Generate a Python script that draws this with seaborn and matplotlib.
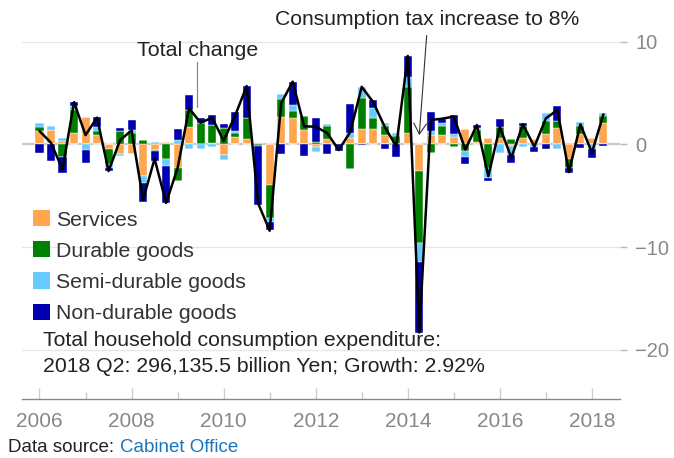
import matplotlib
matplotlib.use("Agg")
import numpy as np
import pandas as pd
import matplotlib.pyplot as plt
import seaborn as sns
from matplotlib.patches import Patch

# ---------------- data ----------------
quarters = [f"{y} Q{q}" for y in range(2006, 2019) for q in range(1, 5)][:50]

services = [1.26, 1.43, 0.30, 1.13, 2.66, 0.88, -0.50, -0.94, -0.97, -3.11,
            -0.55, 0.19, -2.33, 1.65, 0.00, 0.16, -1.04, 0.68, 0.49, 0.00,
            -3.96, 2.69, 2.53, 1.39, -0.29, 0.52, 0.16, 0.65, 1.49, 1.46,
            0.91, 0.00, 1.13, -2.56, 0.91, 0.91, 0.68, 1.49, 0.20, 0.58,
            0.58, -0.15, 0.58, 0.52, 0.97, 1.56, -1.46, 0.97, 0.60, 2.04]
durable = [0.42, 0.00, -1.20, 2.17, 0.00, 0.39, -1.40, 1.30, 1.10, 0.45,
           -0.10, -1.43, -1.20, 1.69, 2.10, 1.72, 1.56, 0.45, 2.04, -0.13,
           -3.24, 1.69, 0.75, 1.39, 0.26, 1.30, 0.00, -2.40, 3.00, 1.13,
           0.88, 0.81, 4.41, -7.00, -0.81, 0.88, -0.23, -0.65, 1.20, -2.33,
           1.08, 0.50, 1.20, 0.00, 1.30, 0.71, -0.88, 0.84, 0.00, 0.75]
semi = [0.39, 0.36, 0.30, 0.39, -0.58, 0.42, -0.42, -0.20, 0.32, -0.68,
        0.26, -0.68, 0.42, -0.49, -0.45, -0.23, -0.49, 0.16, 0.00, 0.16,
        -0.32, 0.49, 0.55, 0.00, -0.42, 0.20, 0.00, 0.42, 1.05, 0.97,
        0.26, 0.26, 1.04, -1.85, 0.39, 0.32, 0.29, -0.62, 0.20, -0.91,
        -0.81, -0.90, -0.23, -0.23, 0.75, -0.45, 0.16, 0.32, -0.50, 0.23]
nondurable = [-0.80, -1.60, -1.60, 0.39, -1.23, 0.97, -0.30, 0.26, 0.91, -1.80,
              -0.95, -3.63, 1.04, 1.46, 0.42, 0.97, 0.39, 1.82, 3.15, -5.75,
              -0.81, -0.94, 2.20, -1.10, 2.27, -0.94, -0.65, 2.82, -0.10, 0.75,
              -0.45, -1.26, 2.01, -6.90, 1.88, 0.32, 1.88, -0.68, 0.25, -0.29,
              0.76, -0.80, 0.26, -0.49, -0.45, 1.49, -0.42, -0.32, -0.80, -0.13]
total = [1.30, 0.15, -2.45, 4.10, 0.90, 2.60, -2.60, 0.40, 1.36, -5.40,
         -1.40, -5.70, -2.30, 3.50, 2.10, 2.60, 0.35, 2.80, 5.67, -5.74,
         -8.40, 4.00, 6.10, 1.75, 1.72, 1.10, -0.55, 1.20, 5.60, 4.10,
         1.70, -0.20, 8.60, -18.30, 2.37, 2.50, 2.70, -0.50, 1.88, -3.10,
         1.70, -1.30, 1.95, -0.23, 2.53, 3.34, -2.70, 1.95, -0.80, 2.92]

series_names = ["Services", "Durable goods", "Semi-durable goods", "Non-durable goods"]
series_values = [services, durable, semi, nondurable]
series_colors = ["#ffa64f", "#008000", "#66ccff", "#0000b0"]

year_ticks = [2006, 2008, 2010, 2012, 2014, 2016, 2018]
year_labels = ["2006", "2008", "2010", "2012", "2014", "2016", "2018"]
y_ticks = [10, 0, -10, -20]

# quarter -> decimal year (start of quarter)
tpos = np.array([int(q[:4]) + (int(q[-1]) - 1) / 4 for q in quarters])

# ---------------- style ----------------
sns.set_theme(style="white")
plt.rcParams["font.family"] = ["Liberation Sans", "DejaVu Sans"]

fig = plt.figure(figsize=(6.74, 4.58), dpi=100)
W, H = 674, 458
ax_left, ax_right, ax_top, ax_bottom = 22, 620, 21, 399.3
ax = fig.add_axes([ax_left / W, 1 - ax_bottom / H,
                   (ax_right - ax_left) / W, (ax_bottom - ax_top) / H])

# grid and zero line
for yv in [10, -10, -20]:
    ax.axhline(yv, color="#e6e6e6", lw=0.9, zorder=0)
ax.axhline(0, color="#c8c8c8", lw=1.6, zorder=0.5)

# stacked diverging bars
pos_bottom = np.zeros(len(tpos))
neg_bottom = np.zeros(len(tpos))
bar_w = 0.175
for name, vals, col in zip(series_names, series_values, series_colors):
    v = np.array(vals, dtype=float)
    pos = np.where(v > 0, v, 0)
    neg = np.where(v < 0, v, 0)
    ax.bar(tpos, pos, bottom=pos_bottom, width=bar_w, color=col,
           edgecolor="white", linewidth=0.3, zorder=2)
    ax.bar(tpos, neg, bottom=neg_bottom, width=bar_w, color=col,
           edgecolor="white", linewidth=0.3, zorder=2)
    pos_bottom += pos
    neg_bottom += neg

# total change line
df_tot = pd.DataFrame({"t": tpos, "total": total})
sns.lineplot(data=df_tot, x="t", y="total", color="black", lw=1.8, ax=ax,
             zorder=3)

ax.set_xlim(2005.62, 2018.61)
ax.set_ylim(-24.8, 12.0)

# axes styling
for s in ["left", "right", "top"]:
    ax.spines[s].set_visible(False)
ax.spines["bottom"].set_color("#888888")
ax.spines["bottom"].set_linewidth(1.0)

ax.set_xticks(year_ticks)
ax.set_xticklabels(year_labels)
ax.set_xticks(list(range(2007, 2019, 2)), minor=True)
ax.tick_params(axis="x", which="major", direction="in", length=8, width=1,
               color="#cccccc", labelsize=15, labelcolor="#888888", pad=9,
               bottom=True)
ax.tick_params(axis="x", which="minor", direction="in", length=5, width=1,
               color="#cccccc", bottom=True)

ax.yaxis.tick_right()
ax.set_yticks(y_ticks)
ax.set_yticklabels([f"{v}".replace("-", "\u2212") for v in y_ticks])
ax.tick_params(axis="y", which="major", direction="out", length=5, width=1,
               color="#bbbbbb", labelsize=14.5, labelcolor="#888888", pad=6,
               right=True, left=False)
ax.set_xlabel("")
ax.set_ylabel("")
ax.grid(False)

# annotations
ax.text(2009.425, 9.1, "Total change", ha="center", va="center",
        fontsize=15.4, color="#222222")
ax.plot([2009.425, 2009.425], [3.6, 8.0], color="#888888", lw=0.9, zorder=4)

ax.annotate("Consumption tax increase to 8%", xy=(2014.25, 0.9),
            xytext=(2014.42, 12.1), ha="center", va="center",
            fontsize=15.2, color="#222222", annotation_clip=False,
            arrowprops=dict(arrowstyle="->,head_length=0.5,head_width=0.3",
                            color="#333333", lw=0.8, relpos=(0.5, 0.0),
                            shrinkA=2, shrinkB=0))

# legend
handles = [Patch(facecolor=c, edgecolor="none") for c in series_colors]
leg = fig.legend(handles, series_names, loc="upper left",
                 bbox_to_anchor=(33 / W, 1 - 210 / H), frameon=False,
                 fontsize=15.3, handlelength=0.8, handleheight=0.8,
                 handletextpad=0.3, labelspacing=0.55, borderpad=0,
                 borderaxespad=0)
for t in leg.get_texts():
    t.set_color("#333333")

# summary text
fig.text(43 / W, 1 - 340 / H, "Total household consumption expenditure:",
         fontsize=15.3, color="#222222", va="center", ha="left")
fig.text(43 / W, 1 - 367 / H, "2018 Q2: 296,135.5 billion Yen; Growth: 2.92%",
         fontsize=15.3, color="#222222", va="center", ha="left")

# data source
fig.text(8 / W, 1 - 447 / H, "Data source:", fontsize=13.5, color="#222222",
         va="center", ha="left")
fig.text(120 / W, 1 - 447 / H, "Cabinet Office", fontsize=13.5,
         color="#1c75bc", va="center", ha="left")

fig.savefig("out.png", dpi=100)
